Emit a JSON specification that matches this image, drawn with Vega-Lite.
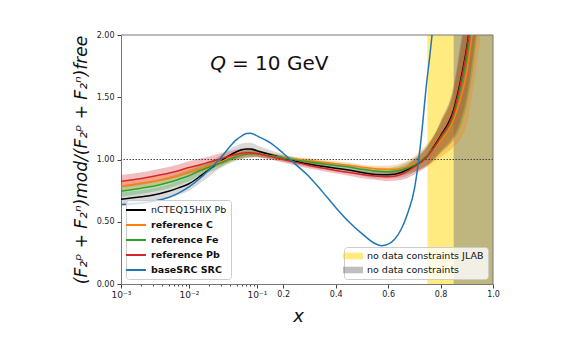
{
  "$schema": "https://vega.github.io/schema/vega-lite/v6.json",
  "background": "white",
  "padding": {"left": 71, "top": 31, "right": 5, "bottom": 5},
  "spacing": 0,
  "bounds": "flush",
  "config": {
    "font": "DejaVu Sans",
    "view": {"stroke": null},
    "axis": {"domainColor": "#777", "tickColor": "#444", "labelColor": "#222", "labelFontSize": 8, "labelFont": "DejaVu Sans", "grid": false, "titleFont": "DejaVu Sans", "titleColor": "#111", "titleFontWeight": "normal"}
  },
  "datasets": {
    "curves": [
      {"s":"nCTEQ15HIX Pb","x":0.001,"y":0.68,"lo":0.625,"hi":0.735},
      {"s":"nCTEQ15HIX Pb","x":0.002,"y":0.70,"lo":0.645,"hi":0.755},
      {"s":"nCTEQ15HIX Pb","x":0.003,"y":0.715,"lo":0.66,"hi":0.77},
      {"s":"nCTEQ15HIX Pb","x":0.005,"y":0.745,"lo":0.69,"hi":0.8},
      {"s":"nCTEQ15HIX Pb","x":0.007,"y":0.772,"lo":0.717,"hi":0.827},
      {"s":"nCTEQ15HIX Pb","x":0.01,"y":0.805,"lo":0.75,"hi":0.86},
      {"s":"nCTEQ15HIX Pb","x":0.015,"y":0.87,"lo":0.815,"hi":0.925},
      {"s":"nCTEQ15HIX Pb","x":0.02,"y":0.92,"lo":0.865,"hi":0.975},
      {"s":"nCTEQ15HIX Pb","x":0.03,"y":0.99,"lo":0.94,"hi":1.04},
      {"s":"nCTEQ15HIX Pb","x":0.04,"y":1.035,"lo":0.985,"hi":1.085},
      {"s":"nCTEQ15HIX Pb","x":0.05,"y":1.062,"lo":1.012,"hi":1.112},
      {"s":"nCTEQ15HIX Pb","x":0.06,"y":1.078,"lo":1.028,"hi":1.128},
      {"s":"nCTEQ15HIX Pb","x":0.07,"y":1.085,"lo":1.035,"hi":1.135},
      {"s":"nCTEQ15HIX Pb","x":0.08,"y":1.085,"lo":1.035,"hi":1.135},
      {"s":"nCTEQ15HIX Pb","x":0.1,"y":1.07,"lo":1.025,"hi":1.115},
      {"s":"nCTEQ15HIX Pb","x":0.15,"y":1.04,"lo":1.005,"hi":1.075},
      {"s":"nCTEQ15HIX Pb","x":0.2,"y":1.012,"lo":0.982,"hi":1.042},
      {"s":"nCTEQ15HIX Pb","x":0.25,"y":0.985,"lo":0.96,"hi":1.01},
      {"s":"nCTEQ15HIX Pb","x":0.3,"y":0.962,"lo":0.937,"hi":0.987},
      {"s":"nCTEQ15HIX Pb","x":0.35,"y":0.945,"lo":0.92,"hi":0.97},
      {"s":"nCTEQ15HIX Pb","x":0.4,"y":0.93,"lo":0.905,"hi":0.955},
      {"s":"nCTEQ15HIX Pb","x":0.45,"y":0.915,"lo":0.89,"hi":0.94},
      {"s":"nCTEQ15HIX Pb","x":0.5,"y":0.895,"lo":0.87,"hi":0.92},
      {"s":"nCTEQ15HIX Pb","x":0.55,"y":0.88,"lo":0.85,"hi":0.91},
      {"s":"nCTEQ15HIX Pb","x":0.6,"y":0.877,"lo":0.847,"hi":0.907},
      {"s":"nCTEQ15HIX Pb","x":0.65,"y":0.895,"lo":0.855,"hi":0.935},
      {"s":"nCTEQ15HIX Pb","x":0.7,"y":0.95,"lo":0.9,"hi":1.0},
      {"s":"nCTEQ15HIX Pb","x":0.75,"y":1.035,"lo":0.965,"hi":1.105},
      {"s":"nCTEQ15HIX Pb","x":0.8,"y":1.19,"lo":1.07,"hi":1.31},
      {"s":"nCTEQ15HIX Pb","x":0.85,"y":1.4,"lo":1.2,"hi":1.6},
      {"s":"nCTEQ15HIX Pb","x":0.875,"y":1.62,"lo":1.32,"hi":1.92},
      {"s":"nCTEQ15HIX Pb","x":0.9,"y":1.9,"lo":1.52,"hi":2.28},
      {"s":"nCTEQ15HIX Pb","x":0.925,"y":2.3,"lo":1.85,"hi":2.75},
      {"s":"nCTEQ15HIX Pb","x":0.95,"y":2.8,"lo":2.3,"hi":3.3},

      {"s":"reference C","x":0.001,"y":0.785,"lo":0.75,"hi":0.82},
      {"s":"reference C","x":0.002,"y":0.81,"lo":0.775,"hi":0.845},
      {"s":"reference C","x":0.003,"y":0.825,"lo":0.79,"hi":0.86},
      {"s":"reference C","x":0.005,"y":0.85,"lo":0.815,"hi":0.885},
      {"s":"reference C","x":0.007,"y":0.87,"lo":0.835,"hi":0.905},
      {"s":"reference C","x":0.01,"y":0.9,"lo":0.865,"hi":0.935},
      {"s":"reference C","x":0.015,"y":0.928,"lo":0.898,"hi":0.958},
      {"s":"reference C","x":0.02,"y":0.95,"lo":0.92,"hi":0.98},
      {"s":"reference C","x":0.03,"y":0.985,"lo":0.955,"hi":1.015},
      {"s":"reference C","x":0.04,"y":1.01,"lo":0.98,"hi":1.04},
      {"s":"reference C","x":0.05,"y":1.027,"lo":1.002,"hi":1.052},
      {"s":"reference C","x":0.06,"y":1.038,"lo":1.013,"hi":1.063},
      {"s":"reference C","x":0.07,"y":1.044,"lo":1.019,"hi":1.069},
      {"s":"reference C","x":0.08,"y":1.046,"lo":1.021,"hi":1.071},
      {"s":"reference C","x":0.1,"y":1.045,"lo":1.025,"hi":1.065},
      {"s":"reference C","x":0.15,"y":1.03,"lo":1.01,"hi":1.05},
      {"s":"reference C","x":0.2,"y":1.015,"lo":0.995,"hi":1.035},
      {"s":"reference C","x":0.25,"y":1.0,"lo":0.98,"hi":1.02},
      {"s":"reference C","x":0.3,"y":0.99,"lo":0.97,"hi":1.01},
      {"s":"reference C","x":0.35,"y":0.978,"lo":0.958,"hi":0.998},
      {"s":"reference C","x":0.4,"y":0.965,"lo":0.945,"hi":0.985},
      {"s":"reference C","x":0.45,"y":0.953,"lo":0.933,"hi":0.973},
      {"s":"reference C","x":0.5,"y":0.938,"lo":0.918,"hi":0.958},
      {"s":"reference C","x":0.55,"y":0.925,"lo":0.9,"hi":0.95},
      {"s":"reference C","x":0.6,"y":0.92,"lo":0.89,"hi":0.95},
      {"s":"reference C","x":0.65,"y":0.93,"lo":0.89,"hi":0.97},
      {"s":"reference C","x":0.7,"y":0.965,"lo":0.905,"hi":1.025},
      {"s":"reference C","x":0.75,"y":1.04,"lo":0.95,"hi":1.13},
      {"s":"reference C","x":0.8,"y":1.15,"lo":1.02,"hi":1.28},
      {"s":"reference C","x":0.85,"y":1.32,"lo":1.1,"hi":1.54},
      {"s":"reference C","x":0.875,"y":1.48,"lo":1.16,"hi":1.8},
      {"s":"reference C","x":0.9,"y":1.7,"lo":1.28,"hi":2.12},
      {"s":"reference C","x":0.925,"y":2.08,"lo":1.58,"hi":2.58},
      {"s":"reference C","x":0.95,"y":2.5,"lo":1.95,"hi":3.05},

      {"s":"reference Fe","x":0.001,"y":0.745,"lo":0.7,"hi":0.79},
      {"s":"reference Fe","x":0.002,"y":0.77,"lo":0.725,"hi":0.815},
      {"s":"reference Fe","x":0.003,"y":0.785,"lo":0.74,"hi":0.83},
      {"s":"reference Fe","x":0.005,"y":0.815,"lo":0.77,"hi":0.86},
      {"s":"reference Fe","x":0.007,"y":0.84,"lo":0.795,"hi":0.885},
      {"s":"reference Fe","x":0.01,"y":0.87,"lo":0.825,"hi":0.915},
      {"s":"reference Fe","x":0.015,"y":0.915,"lo":0.875,"hi":0.955},
      {"s":"reference Fe","x":0.02,"y":0.94,"lo":0.9,"hi":0.98},
      {"s":"reference Fe","x":0.03,"y":0.975,"lo":0.94,"hi":1.01},
      {"s":"reference Fe","x":0.04,"y":1.005,"lo":0.97,"hi":1.04},
      {"s":"reference Fe","x":0.05,"y":1.022,"lo":0.992,"hi":1.052},
      {"s":"reference Fe","x":0.06,"y":1.035,"lo":1.005,"hi":1.065},
      {"s":"reference Fe","x":0.07,"y":1.043,"lo":1.013,"hi":1.073},
      {"s":"reference Fe","x":0.08,"y":1.046,"lo":1.016,"hi":1.076},
      {"s":"reference Fe","x":0.1,"y":1.045,"lo":1.02,"hi":1.07},
      {"s":"reference Fe","x":0.15,"y":1.03,"lo":1.01,"hi":1.05},
      {"s":"reference Fe","x":0.2,"y":1.012,"lo":0.992,"hi":1.032},
      {"s":"reference Fe","x":0.25,"y":0.995,"lo":0.975,"hi":1.015},
      {"s":"reference Fe","x":0.3,"y":0.98,"lo":0.96,"hi":1.0},
      {"s":"reference Fe","x":0.35,"y":0.965,"lo":0.945,"hi":0.985},
      {"s":"reference Fe","x":0.4,"y":0.952,"lo":0.932,"hi":0.972},
      {"s":"reference Fe","x":0.45,"y":0.94,"lo":0.92,"hi":0.96},
      {"s":"reference Fe","x":0.5,"y":0.922,"lo":0.902,"hi":0.942},
      {"s":"reference Fe","x":0.55,"y":0.908,"lo":0.883,"hi":0.933},
      {"s":"reference Fe","x":0.6,"y":0.902,"lo":0.872,"hi":0.932},
      {"s":"reference Fe","x":0.65,"y":0.915,"lo":0.875,"hi":0.955},
      {"s":"reference Fe","x":0.7,"y":0.955,"lo":0.9,"hi":1.01},
      {"s":"reference Fe","x":0.75,"y":1.035,"lo":0.955,"hi":1.115},
      {"s":"reference Fe","x":0.8,"y":1.17,"lo":1.05,"hi":1.29},
      {"s":"reference Fe","x":0.85,"y":1.36,"lo":1.16,"hi":1.56},
      {"s":"reference Fe","x":0.875,"y":1.56,"lo":1.26,"hi":1.86},
      {"s":"reference Fe","x":0.9,"y":1.82,"lo":1.44,"hi":2.2},
      {"s":"reference Fe","x":0.925,"y":2.2,"lo":1.75,"hi":2.65},
      {"s":"reference Fe","x":0.95,"y":2.7,"lo":2.2,"hi":3.2},

      {"s":"reference Pb","x":0.001,"y":0.825,"lo":0.775,"hi":0.875},
      {"s":"reference Pb","x":0.002,"y":0.848,"lo":0.798,"hi":0.898},
      {"s":"reference Pb","x":0.003,"y":0.866,"lo":0.816,"hi":0.916},
      {"s":"reference Pb","x":0.005,"y":0.89,"lo":0.84,"hi":0.94},
      {"s":"reference Pb","x":0.007,"y":0.91,"lo":0.86,"hi":0.96},
      {"s":"reference Pb","x":0.01,"y":0.935,"lo":0.885,"hi":0.985},
      {"s":"reference Pb","x":0.015,"y":0.96,"lo":0.91,"hi":1.01},
      {"s":"reference Pb","x":0.02,"y":0.98,"lo":0.935,"hi":1.025},
      {"s":"reference Pb","x":0.03,"y":1.008,"lo":0.963,"hi":1.053},
      {"s":"reference Pb","x":0.04,"y":1.028,"lo":0.988,"hi":1.068},
      {"s":"reference Pb","x":0.05,"y":1.04,"lo":1.0,"hi":1.08},
      {"s":"reference Pb","x":0.06,"y":1.05,"lo":1.01,"hi":1.09},
      {"s":"reference Pb","x":0.07,"y":1.054,"lo":1.019,"hi":1.089},
      {"s":"reference Pb","x":0.08,"y":1.054,"lo":1.019,"hi":1.089},
      {"s":"reference Pb","x":0.1,"y":1.048,"lo":1.018,"hi":1.078},
      {"s":"reference Pb","x":0.15,"y":1.025,"lo":1.0,"hi":1.05},
      {"s":"reference Pb","x":0.2,"y":1.0,"lo":0.975,"hi":1.025},
      {"s":"reference Pb","x":0.25,"y":0.975,"lo":0.95,"hi":1.0},
      {"s":"reference Pb","x":0.3,"y":0.952,"lo":0.927,"hi":0.977},
      {"s":"reference Pb","x":0.35,"y":0.932,"lo":0.907,"hi":0.957},
      {"s":"reference Pb","x":0.4,"y":0.912,"lo":0.887,"hi":0.937},
      {"s":"reference Pb","x":0.45,"y":0.895,"lo":0.87,"hi":0.92},
      {"s":"reference Pb","x":0.5,"y":0.88,"lo":0.85,"hi":0.91},
      {"s":"reference Pb","x":0.55,"y":0.868,"lo":0.838,"hi":0.898},
      {"s":"reference Pb","x":0.6,"y":0.862,"lo":0.827,"hi":0.897},
      {"s":"reference Pb","x":0.65,"y":0.88,"lo":0.835,"hi":0.925},
      {"s":"reference Pb","x":0.7,"y":0.94,"lo":0.88,"hi":1.0},
      {"s":"reference Pb","x":0.75,"y":1.025,"lo":0.945,"hi":1.105},
      {"s":"reference Pb","x":0.8,"y":1.18,"lo":1.06,"hi":1.3},
      {"s":"reference Pb","x":0.85,"y":1.38,"lo":1.18,"hi":1.58},
      {"s":"reference Pb","x":0.875,"y":1.6,"lo":1.3,"hi":1.9},
      {"s":"reference Pb","x":0.9,"y":1.88,"lo":1.5,"hi":2.26},
      {"s":"reference Pb","x":0.925,"y":2.3,"lo":1.85,"hi":2.75},
      {"s":"reference Pb","x":0.95,"y":2.8,"lo":2.3,"hi":3.3},

      {"s":"baseSRC SRC","x":0.001,"y":0.638},
      {"s":"baseSRC SRC","x":0.002,"y":0.65},
      {"s":"baseSRC SRC","x":0.003,"y":0.665},
      {"s":"baseSRC SRC","x":0.005,"y":0.695},
      {"s":"baseSRC SRC","x":0.007,"y":0.73},
      {"s":"baseSRC SRC","x":0.01,"y":0.78},
      {"s":"baseSRC SRC","x":0.015,"y":0.855},
      {"s":"baseSRC SRC","x":0.02,"y":0.92},
      {"s":"baseSRC SRC","x":0.03,"y":1.02},
      {"s":"baseSRC SRC","x":0.04,"y":1.105},
      {"s":"baseSRC SRC","x":0.05,"y":1.16},
      {"s":"baseSRC SRC","x":0.06,"y":1.19},
      {"s":"baseSRC SRC","x":0.07,"y":1.208},
      {"s":"baseSRC SRC","x":0.08,"y":1.21},
      {"s":"baseSRC SRC","x":0.1,"y":1.19},
      {"s":"baseSRC SRC","x":0.15,"y":1.135},
      {"s":"baseSRC SRC","x":0.2,"y":1.05},
      {"s":"baseSRC SRC","x":0.25,"y":0.955},
      {"s":"baseSRC SRC","x":0.3,"y":0.86},
      {"s":"baseSRC SRC","x":0.35,"y":0.74},
      {"s":"baseSRC SRC","x":0.4,"y":0.615},
      {"s":"baseSRC SRC","x":0.45,"y":0.5},
      {"s":"baseSRC SRC","x":0.5,"y":0.405},
      {"s":"baseSRC SRC","x":0.55,"y":0.325},
      {"s":"baseSRC SRC","x":0.575,"y":0.308},
      {"s":"baseSRC SRC","x":0.6,"y":0.32},
      {"s":"baseSRC SRC","x":0.625,"y":0.36},
      {"s":"baseSRC SRC","x":0.65,"y":0.44},
      {"s":"baseSRC SRC","x":0.675,"y":0.57},
      {"s":"baseSRC SRC","x":0.7,"y":0.76},
      {"s":"baseSRC SRC","x":0.715,"y":0.97},
      {"s":"baseSRC SRC","x":0.73,"y":1.25},
      {"s":"baseSRC SRC","x":0.745,"y":1.58},
      {"s":"baseSRC SRC","x":0.76,"y":1.85},
      {"s":"baseSRC SRC","x":0.775,"y":2.15}
    ],
    "regions": [
      {"region":"no data constraints JLAB","x0":0.75,"x1":1.0},
      {"region":"no data constraints","x0":0.85,"x1":1.0}
    ]
  },
  "resolve": {
    "scale": {"x": "independent", "y": "shared", "color": "independent", "stroke": "independent", "fill": "independent"},
    "legend": {"color": "independent", "stroke": "independent", "fill": "independent"}
  },
  "hconcat": [
    {
      "width": 136,
      "height": 249,
      "layer": [
        {
          "data": {"name": "curves"},
          "transform": [{"filter": "datum.x <= 0.1 && isValid(datum.lo)"}],
          "mark": {"type": "area", "interpolate": "monotone", "opacity": 0.3, "clip": true},
          "encoding": {
            "x": {"field": "x", "type": "quantitative", "scale": {"type": "log", "domain": [0.001, 0.1], "nice": false},
              "axis": {"title": null, "values": [0.001,0.002,0.003,0.004,0.005,0.006,0.007,0.008,0.009,0.01,0.02,0.03,0.04,0.05,0.06,0.07,0.08,0.09,0.1],
                "labelExpr": "datum.value == 0.001 ? '10⁻³' : datum.value == 0.01 ? '10⁻²' : datum.value == 0.1 ? '10⁻¹' : ''",
                "tickSize": {"condition": {"test": "datum.value == 0.001 || datum.value == 0.01 || datum.value == 0.1", "value": 4}, "value": 2},
                "labelFontSize": 9, "labelFlush": false, "labelOverlap": false, "labelBound": false, "labelPadding": 2}},
            "y": {"field": "lo", "type": "quantitative", "scale": {"domain": [0, 2], "nice": false, "zero": false},
              "axis": {"values": [0,0.25,0.5,0.75,1,1.25,1.5,1.75,2], "format": ".2f", "tickSize": 4, "labelPadding": 3,
                "title": "(F₂ᵖ + F₂ⁿ)mod/(F₂ᵖ + F₂ⁿ)free", "titleFontSize": 17, "titleFontStyle": "italic", "titleBaseline": "middle", "titleX": -40, "titlePadding": 10}},
            "y2": {"field": "hi"},
            "color": {"field": "s", "type": "nominal", "legend": null,
              "scale": {"domain": ["nCTEQ15HIX Pb","reference C","reference Fe","reference Pb"], "range": ["#808080","#ff7f0e","#2ca02c","#d62728"]}}
          }
        },
        {
          "data": {"values": [{}]},
          "mark": {"type": "rule", "strokeDash": [1.5, 1.5], "color": "#444", "strokeWidth": 1},
          "encoding": {"y": {"datum": 1}}
        },
        {
          "data": {"values": [{}]},
          "mark": {"type": "rule", "color": "#777", "strokeWidth": 1},
          "encoding": {"y": {"datum": 2}}
        },
        {
          "data": {"name": "curves"},
          "transform": [{"filter": "datum.x <= 0.1"}],
          "mark": {"type": "line", "interpolate": "monotone", "strokeWidth": 1.5, "clip": true},
          "encoding": {
            "x": {"field": "x", "type": "quantitative"},
            "y": {"field": "y", "type": "quantitative"},
            "stroke": {"field": "s", "type": "nominal",
              "scale": {"domain": ["nCTEQ15HIX Pb","reference C","reference Fe","reference Pb","baseSRC SRC"], "range": ["#000000","#ff7f0e","#2ca02c","#d62728","#1f77b4"]},
              "legend": {"orient": "bottom-left", "offset": 5, "title": null, "symbolType": "M-2,0H2", "symbolSize": 100, "symbolStrokeWidth": 2,
                "labelFontSize": 9.5, "labelColor": "#111", "labelOffset": 9, "rowPadding": 4, "padding": 4, "strokeColor": "#ccc",
                "fillColor": "rgba(255,255,255,0.8)", "cornerRadius": 3,
                "encode": {"labels": {"update": {"fontWeight": {"signal": "datum.label == 'nCTEQ15HIX Pb' ? 'normal' : 'bold'"}}}}}}
          }
        },
        {
          "data": {"values": [{}]},
          "mark": {"type": "text", "text": "Q", "fontStyle": "italic", "fontSize": 20, "align": "right", "baseline": "middle", "dx": -3, "color": "#111"},
          "encoding": {"x": {"datum": 0.0387}, "y": {"datum": 1.764}}
        },
        {
          "data": {"values": [{}]},
          "mark": {"type": "text", "text": "= 10 GeV", "fontSize": 20, "align": "left", "baseline": "middle", "dx": 3, "color": "#111"},
          "encoding": {"x": {"datum": 0.0387}, "y": {"datum": 1.764}}
        }
      ]
    },
    {
      "width": 236,
      "height": 249,
      "layer": [
        {
          "data": {"name": "regions"},
          "mark": {"type": "rect", "opacity": 0.5},
          "encoding": {
            "x": {"field": "x0", "type": "quantitative", "scale": {"domain": [0.1, 1.0], "nice": false, "zero": false},
              "axis": {"values": [0.2,0.4,0.6,0.8,1.0], "format": ".1f", "tickSize": 4, "labelPadding": 2, "labelFlush": false,
                "title": "x", "titleFontSize": 18, "titleFontStyle": "italic", "titleX": 41, "titleY": 37, "titleBaseline": "alphabetic", "titleAlign": "center"}},
            "x2": {"field": "x1"},
            "y": {"datum": 0, "type": "quantitative", "scale": {"domain": [0, 2], "nice": false, "zero": false}, "axis": null},
            "y2": {"datum": 2},
            "fill": {"field": "region", "type": "nominal",
              "scale": {"domain": ["no data constraints JLAB","no data constraints"], "range": ["#FFD700","#808080"]},
              "legend": {"orient": "bottom-right", "offset": 5, "title": null, "symbolType": "M-2,-0.66H2V0.66H-2Z", "symbolSize": 100,
                "symbolOpacity": 0.5, "symbolStrokeWidth": 0, "labelFontSize": 9.5, "labelColor": "#111", "labelOffset": 9, "rowPadding": 4,
                "padding": 4, "strokeColor": "#ccc", "fillColor": "rgba(255,255,255,0.8)", "cornerRadius": 3}}
          }
        },
        {
          "data": {"name": "curves"},
          "transform": [{"filter": "datum.x >= 0.1 && isValid(datum.lo)"}],
          "mark": {"type": "area", "interpolate": "monotone", "opacity": 0.3, "clip": true},
          "encoding": {
            "x": {"field": "x", "type": "quantitative"},
            "y": {"field": "lo", "type": "quantitative"},
            "y2": {"field": "hi"},
            "color": {"field": "s", "type": "nominal", "legend": null,
              "scale": {"domain": ["nCTEQ15HIX Pb","reference C","reference Fe","reference Pb"], "range": ["#808080","#ff7f0e","#2ca02c","#d62728"]}}
          }
        },
        {
          "data": {"values": [{}]},
          "mark": {"type": "rule", "strokeDash": [1.5, 1.5], "color": "#444", "strokeWidth": 1},
          "encoding": {"y": {"datum": 1}}
        },
        {
          "data": {"values": [{}]},
          "mark": {"type": "rule", "color": "#777", "strokeWidth": 1},
          "encoding": {"y": {"datum": 2}}
        },
        {
          "data": {"values": [{}]},
          "mark": {"type": "rule", "color": "#777", "strokeWidth": 1},
          "encoding": {"x": {"datum": 1.0}}
        },
        {
          "data": {"name": "curves"},
          "transform": [{"filter": "datum.x >= 0.1"}],
          "mark": {"type": "line", "interpolate": "monotone", "strokeWidth": 1.5, "clip": true},
          "encoding": {
            "x": {"field": "x", "type": "quantitative"},
            "y": {"field": "y", "type": "quantitative"},
            "stroke": {"field": "s", "type": "nominal", "legend": null,
              "scale": {"domain": ["nCTEQ15HIX Pb","reference C","reference Fe","reference Pb","baseSRC SRC"], "range": ["#000000","#ff7f0e","#2ca02c","#d62728","#1f77b4"]}}
          }
        }
      ]
    }
  ]
}
